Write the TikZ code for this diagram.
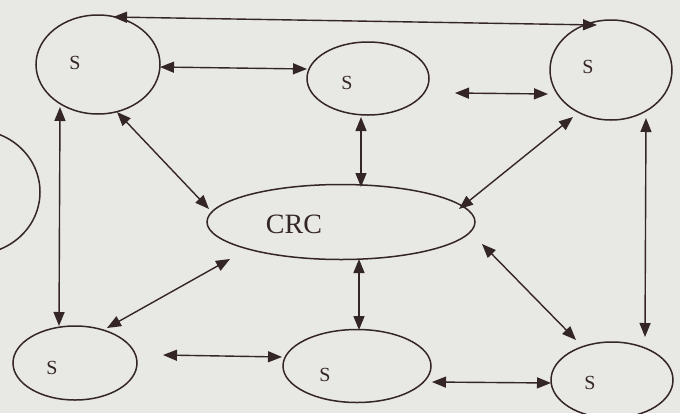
\documentclass[tikz,border=0pt]{standalone}
\usepackage{fontspec}
\setmainfont{Liberation Serif}
\usetikzlibrary{shapes.geometric,arrows.meta}
\definecolor{bg}{RGB}{232,232,229}
\definecolor{ink}{RGB}{52,38,38}
\begin{document}
\begin{tikzpicture}[x=1pt,y=-1pt,
 ell/.style={draw=ink,line width=1.5pt,ellipse,inner sep=0pt},
 lbl/.style={font=\fontsize{20}{20}\selectfont,text=ink,inner sep=0pt},
 big/.style={font=\fontsize{28}{28}\selectfont,text=ink,inner sep=0pt},
 conn/.style={draw=ink,line width=1.4pt,{Triangle[length=14pt,width=11pt]}-{Triangle[length=14pt,width=11pt]}}]
\fill[bg] (0,0) rectangle (680,413);
\useasboundingbox (0,0) rectangle (680,413);
% ellipses
\node[ell,minimum width=124pt,minimum height=99pt] (tl) at (98,64.5) {};
\node[ell,minimum width=122pt,minimum height=73pt] (tm) at (368,78.5) {};
\node[ell,minimum width=122pt,minimum height=100pt] (tr) at (611,70) {};
\node[ell,minimum width=268pt,minimum height=75pt] (crc) at (341,222) {};
\node[ell,minimum width=124pt,minimum height=74pt] (bl) at (75,363) {};
\node[ell,minimum width=148pt,minimum height=73pt] (bm) at (357,366) {};
\node[ell,minimum width=122pt,minimum height=76pt] (br) at (612,380) {};
\node[ell,minimum width=130pt,minimum height=124pt] (lp) at (-25,192) {};
% labels
\node[lbl] (ttl) at (75,63) {S};
\node[lbl] (ttm) at (347,83) {S};
\node[lbl] (ttr) at (588,67) {S};
\node[lbl] (tbl) at (52,368) {S};
\node[lbl] (tbm) at (325,375) {S};
\node[lbl] (tbr) at (590,383) {S};
\node[big] (tcrc) at (294,224) {CRC};
% connector end points
\coordinate (a1) at (113,17);  \coordinate (a2) at (597,25);
\coordinate (b1) at (160,67);  \coordinate (b2) at (307,69);
\coordinate (c1) at (455,93);  \coordinate (c2) at (548,94);
\coordinate (d1) at (117,112); \coordinate (d2) at (209,209);
\coordinate (e1) at (361,117); \coordinate (e2) at (361,187);
\coordinate (f1) at (573,117); \coordinate (f2) at (459,209);
\coordinate (g1) at (60,107);  \coordinate (g2) at (59,326);
\coordinate (h1) at (646,118); \coordinate (h2) at (645,337);
\coordinate (i1) at (230,259); \coordinate (i2) at (107,328);
\coordinate (j1) at (163,355); \coordinate (j2) at (282,357);
\coordinate (k1) at (359,259); \coordinate (k2) at (359,330);
\coordinate (l1) at (482,244); \coordinate (l2) at (576,340);
\coordinate (m1) at (432,382); \coordinate (m2) at (551,383);
% connectors
\draw[conn] (a1) -- (a2);
\draw[conn] (b1) -- (b2);
\draw[conn] (c1) -- (c2);
\draw[conn] (d1) -- (d2);
\draw[conn] (e1) -- (e2);
\draw[conn] (f1) -- (f2);
\draw[conn] (g1) -- (g2);
\draw[conn] (h1) -- (h2);
\draw[conn] (i1) -- (i2);
\draw[conn] (j1) -- (j2);
\draw[conn] (k1) -- (k2);
\draw[conn] (l1) -- (l2);
\draw[conn] (m1) -- (m2);
\end{tikzpicture}
\end{document}
